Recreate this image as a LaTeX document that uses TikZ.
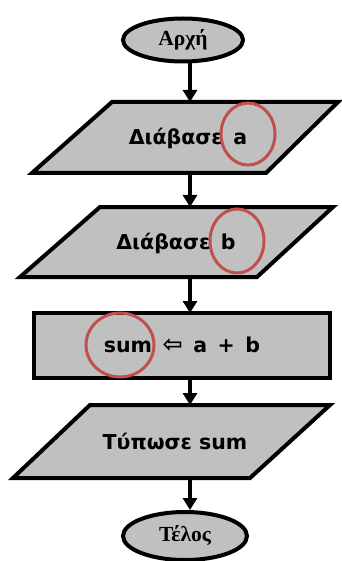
\documentclass[tikz,border=0pt]{standalone}
\usepackage{fontspec}
\setmainfont{DejaVu Sans}
\newfontfamily\serifb{Liberation Serif}
\newfontfamily\comic{DejaVu Sans}
\usetikzlibrary{shapes.geometric,arrows.meta}
\definecolor{boxgray}{HTML}{C0C0C0}
\definecolor{markred}{HTML}{C0504D}
\tikzset{
  term/.style={ellipse, draw=black, fill=boxgray, line width=4pt, minimum width=120pt, minimum height=43pt, inner sep=0pt, font=\serifb\bfseries\fontsize{21.5}{24}\selectfont},
  iobox/.style={draw=black, fill=boxgray, line width=4pt},
  lbl/.style={inner sep=0pt, font=\comic\bfseries\fontsize{20.5}{23}\selectfont},
  arr/.style={line width=4pt, -{Triangle[width=14pt,length=12pt]}},
  redmark/.style={draw=markred, line width=3pt}
}
\begin{document}
\begin{tikzpicture}[x=1pt,y=-1pt]
\useasboundingbox (0,0) rectangle (341,561);
\coordinate (ax) at (190,0);
% start
\node[term] (start) at (183,40) {Αρχή};
% read a
\path[iobox] (112,102) coordinate (p1tl) -- (338,102) -- (266,173) -- (32,173) coordinate (p1bl) -- cycle;
\node[lbl] (t1) at (188,138) {Διάβασε\, a};
% read b
\path[iobox] (100,207) coordinate (p2tl) -- (333,207) -- (257,277) -- (20,277) coordinate (p2bl) -- cycle;
\node[lbl] (t2) at (176,243) {Διάβασε\, b};
% process
\path[iobox] (34,313) coordinate (rtl) rectangle (330,378) coordinate (rbr);
\node[lbl] (t3) at (182,345) {sum\, {\fontsize{24}{24}\selectfont⇦}\, a \,+\, b};
% print
\path[iobox] (90,405) coordinate (p3tl) -- (330,405) -- (250,478) -- (13,478) coordinate (p3bl) -- cycle;
\node[lbl] (t4) at (175,441) {Τύπωσε sum};
% end
\node[term, minimum width=124pt, minimum height=48pt] (end) at (185,536) {Τέλος};
% arrows
\draw[arr] (start.south -| ax) -- (p1tl -| ax);
\draw[arr] (p1bl -| ax) -- (p2tl -| ax);
\draw[arr] (p2bl -| ax) -- (rtl -| ax);
\draw[arr] (rbr -| ax) -- (p3tl -| ax);
\draw[arr] (p3bl -| ax) -- (end.north -| ax);
% marks
\draw[redmark] (248,134) ellipse [x radius=27, y radius=31];
\draw[redmark] (237,241) ellipse [x radius=27, y radius=32];
\draw[redmark] (120,345) ellipse [x radius=34, y radius=32];
\end{tikzpicture}
\end{document}
